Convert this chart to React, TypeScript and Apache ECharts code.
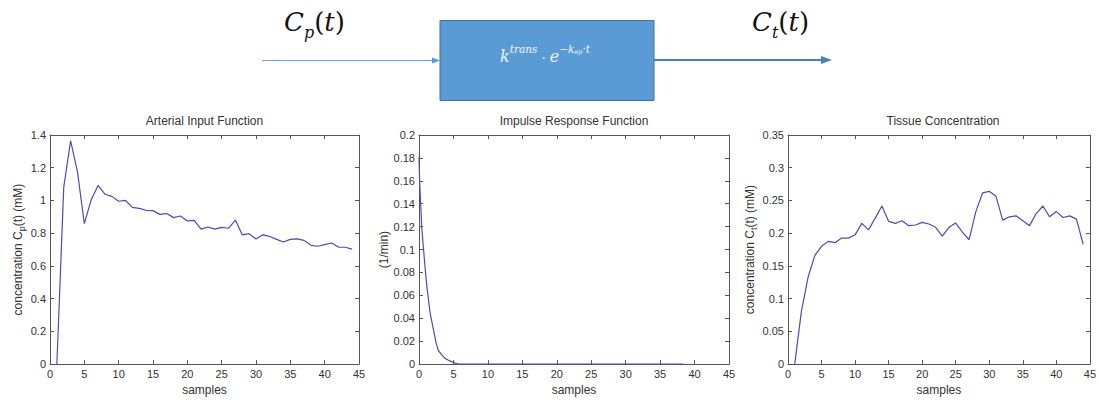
import React, { useEffect, useRef } from "react";
import * as echarts from "echarts";

// Arterial input function Cp(t), one value per sample (samples 1..44)
const aifValues = [
  0, 1.08, 1.365, 1.175, 0.858, 1.005, 1.092, 1.038, 1.025, 0.995, 1.0,
  0.958, 0.952, 0.94, 0.938, 0.915, 0.92, 0.895, 0.905, 0.875, 0.878, 0.825,
  0.838, 0.825, 0.835, 0.83, 0.88, 0.79, 0.797, 0.765, 0.79, 0.78, 0.762,
  0.746, 0.762, 0.765, 0.756, 0.726, 0.72, 0.73, 0.74, 0.715, 0.714, 0.703,
];

// Impulse response function (1/min) at the sampled times
const irfTimes = [0, 0.1, 0.4, 0.8, 1.1, 1.6, 2.1, 2.5, 2.8, 3.3, 3.8, 4.4, 5.0, 5.7, 38.4];
const irfValues = [0.181, 0.158, 0.119, 0.09, 0.07, 0.045, 0.03, 0.018, 0.012, 0.008, 0.005, 0.003, 0.0014, 0, 0];

// Tissue concentration Ct(t), one value per sample (samples 1..44)
const tissueValues = [
  0, 0.081, 0.133, 0.166, 0.18, 0.1875, 0.1855, 0.1925, 0.1925, 0.1975, 0.215,
  0.205, 0.223, 0.2415, 0.218, 0.215, 0.219, 0.2115, 0.2125, 0.2165, 0.214,
  0.209, 0.1955, 0.209, 0.2155, 0.2015, 0.19, 0.233, 0.2615, 0.264, 0.2565,
  0.22, 0.225, 0.2265, 0.219, 0.2115, 0.23, 0.2415, 0.225, 0.233, 0.224,
  0.2265, 0.2215, 0.183,
];

const panelTitles = ["Arterial Input Function", "Impulse Response Function", "Tissue Concentration"];
const xRange = { min: 0, max: 45, interval: 5 };
const yRanges = [
  { min: 0, max: 1.4, interval: 0.2 },
  { min: 0, max: 0.2, interval: 0.02 },
  { min: 0, max: 0.35, interval: 0.05 },
];

const SANS = "'Liberation Sans', Arial, sans-serif";
const SERIF = "'DejaVu Serif', 'Liberation Serif', serif";
const TEXT = "#333";
const FRAME = "#555";
const LINE = "#4c4cb4";

const grids = [
  { left: 50, top: 135, width: 309, height: 235 },
  { left: 419, top: 135, width: 310, height: 235 },
  { left: 788, top: 135, width: 310, height: 235 },
];

// rich styles for axis names with a subscript
const subRich = {
  n: { fontSize: 12, fontFamily: SANS, color: TEXT, verticalAlign: "top" },
  s: { fontSize: 9, fontFamily: SANS, color: TEXT, verticalAlign: "top", padding: [6, 0, 0, 0] },
};

const yNames = [
  "{n|concentration C}{s|p}{n|(t) (mM)}",
  "{n|(1/min)}",
  "{n|concentration C}{s|t}{n|(t) (mM)}",
];
const yNameGaps = [23, 23, 27];

export default function App() {
  const ref = useRef<HTMLDivElement>(null);

  useEffect(() => {
    if (!ref.current) return;
    const chart = echarts.init(ref.current, null, { renderer: "svg" });

    const xAxes: any[] = [];
    const yAxes: any[] = [];
    grids.forEach((_, i) => {
      const frameLine = { show: true, onZero: false, lineStyle: { color: FRAME, width: 1 } };
      const tick = { show: true, inside: true, length: 4, lineStyle: { color: FRAME } };
      xAxes.push({
        gridIndex: i,
        type: "value",
        ...xRange,
        position: "bottom",
        axisLine: frameLine,
        axisTick: tick,
        splitLine: { show: false },
        axisLabel: { fontSize: 11, fontFamily: SANS, color: TEXT, margin: 4 },
        name: "samples",
        nameLocation: "middle",
        nameGap: 19,
        nameTextStyle: { fontSize: 12, fontFamily: SANS, color: TEXT },
      });
      xAxes.push({
        gridIndex: i,
        type: "value",
        ...xRange,
        position: "top",
        axisLine: frameLine,
        axisTick: tick,
        splitLine: { show: false },
        axisLabel: { show: false },
      });
      yAxes.push({
        gridIndex: i,
        type: "value",
        ...yRanges[i],
        position: "left",
        axisLine: frameLine,
        axisTick: tick,
        splitLine: { show: false },
        axisLabel: { fontSize: 11, fontFamily: SANS, color: TEXT, margin: 4 },
        name: yNames[i],
        nameLocation: "middle",
        nameRotate: 90,
        nameGap: yNameGaps[i],
        nameTextStyle: { fontSize: 12, fontFamily: SANS, color: TEXT, rich: subRich },
      });
      yAxes.push({
        gridIndex: i,
        type: "value",
        ...yRanges[i],
        position: "right",
        axisLine: frameLine,
        axisTick: tick,
        splitLine: { show: false },
        axisLabel: { show: false },
      });
    });

    const lineSeries = (i: number, data: number[][]) => ({
      type: "line",
      xAxisIndex: i * 2,
      yAxisIndex: i * 2,
      data,
      showSymbol: false,
      symbol: "none",
      lineStyle: { color: LINE, width: 1.2 },
      z: 3,
    });

    const titleTexts = panelTitles.map((t, i) => ({
      type: "text",
      x: grids[i].left + grids[i].width / 2,
      y: 121,
      style: {
        text: t,
        fontSize: 12,
        fontFamily: SANS,
        fill: TEXT,
        textAlign: "center",
        textVerticalAlign: "middle",
      },
    }));

    // italic math letters, upright parentheses, lowered subscript
    const mathRich = {
      i: { fontSize: 26, fontFamily: SERIF, fontStyle: "italic", fill: "#111", verticalAlign: "top" },
      u: { fontSize: 26, fontFamily: SERIF, fill: "#111", verticalAlign: "top" },
      s: { fontSize: 16, fontFamily: SERIF, fontStyle: "italic", fill: "#111", verticalAlign: "top", padding: [15, 0, 0, 0] },
    };

    const boxRich = {
      m: { fontSize: 16, fontFamily: SERIF, fontStyle: "italic", fill: "#f2f6fb", lineHeight: 21, verticalAlign: "bottom" },
      d: { fontSize: 13, fontFamily: SERIF, fill: "#f2f6fb", lineHeight: 21, verticalAlign: "bottom" },
      p: { fontSize: 10.5, fontFamily: SERIF, fontStyle: "italic", fill: "#f2f6fb", lineHeight: 12, verticalAlign: "top" },
      q: { fontSize: 6.5, fontFamily: SERIF, fontStyle: "italic", fill: "#f2f6fb", lineHeight: 6, padding: [5, 0, 0, 0], verticalAlign: "top" },
    };

    const option: any = {
      animation: false,
      grid: grids.map((g) => ({ ...g, containLabel: false })),
      xAxis: xAxes,
      yAxis: yAxes,
      series: [
        lineSeries(0, aifValues.map((v, k) => [k + 1, v])),
        lineSeries(1, irfTimes.map((t, k) => [t, irfValues[k]])),
        lineSeries(2, tissueValues.map((v, k) => [k + 1, v])),
      ],
      graphic: [
        ...titleTexts,
        // input arrow
        {
          type: "line",
          shape: { x1: 262, y1: 60.5, x2: 434, y2: 60.5 },
          style: { stroke: "#6aa3d8", lineWidth: 1 },
        },
        {
          type: "polygon",
          shape: { points: [[432, 57.5], [440, 60.5], [432, 63.5]] },
          style: { fill: "#5b9bd5" },
        },
        // transfer block
        {
          type: "rect",
          shape: { x: 440, y: 20.5, width: 214, height: 80 },
          style: { fill: "#5b9bd5", stroke: "#41719c", lineWidth: 1 },
        },
        {
          type: "text",
          x: 545,
          y: 54,
          style: {
            text: "{m|k}{p|trans}{d| · }{m|e}{p|−k}{q|ep}{p|·t}",
            rich: boxRich,
            textAlign: "center",
            textVerticalAlign: "middle",
          },
        },
        // output arrow
        {
          type: "line",
          shape: { x1: 654, y1: 60, x2: 824, y2: 60 },
          style: { stroke: "#4a7ebf", lineWidth: 2 },
        },
        {
          type: "polygon",
          shape: { points: [[821, 56], [832, 60], [821, 64]] },
          style: { fill: "#4a7ebf" },
        },
        // signal labels
        {
          type: "text",
          x: 284,
          y: 9,
          style: {
            text: "{i|C}{s|p}{u|(}{i|t}{u|)}",
            rich: mathRich,
            textAlign: "left",
            textVerticalAlign: "top",
          },
        },
        {
          type: "text",
          x: 752,
          y: 9,
          style: {
            text: "{i|C}{s|t}{u|(}{i|t}{u|)}",
            rich: mathRich,
            textAlign: "left",
            textVerticalAlign: "top",
          },
        },
      ],
    };

    chart.setOption(option);
    return () => chart.dispose();
  }, []);

  return (
    <div
      ref={ref}
      style={{ position: "fixed", left: 0, top: 0, width: 1099, height: 401, background: "#fff" }}
    />
  );
}
